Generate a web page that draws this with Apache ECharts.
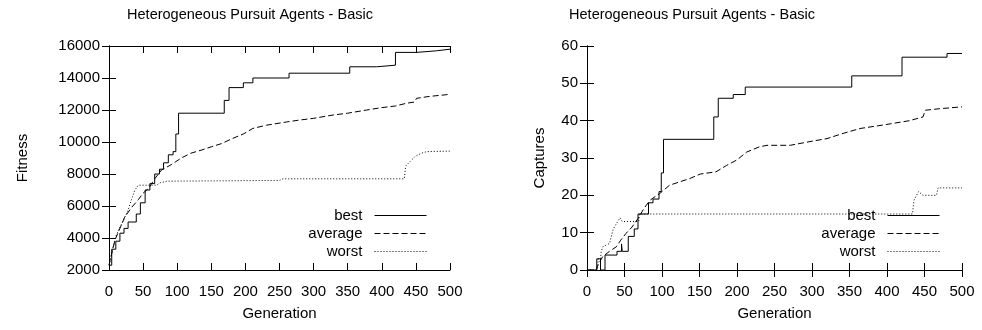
<!DOCTYPE html>
<html>
<head>
<meta charset="utf-8">
<script src="https://cdn.jsdelivr.net/npm/echarts@6/dist/echarts.min.js"></script>
<style>
  html, body { margin: 0; padding: 0; background: #fff; }
  #chart { width: 982px; height: 330px; }
</style>
</head>
<body>
<div id="chart"></div>
<script>
// values, [generation, value]
const chartTitle = 'Heterogeneous Pursuit Agents - Basic';
const seriesNames = ['best', 'average', 'worst'];

const fitnessBest = [
  [0, 2300], [4, 3300], [10, 3800], [16, 4300], [22, 4600], [28, 5000], [40, 5500],
  [46, 6200], [53, 7000], [60, 7400], [67, 8000], [74, 8300], [80, 8700], [87, 9200],
  [94, 9400], [98, 10500], [102, 11800], [169, 12600], [176, 13400], [197, 13700],
  [211, 14000], [264, 14300], [353, 14700], [392, 14800], [420, 15600], [451, 15700],
  [480, 15800], [500, 15800]
];
const fitnessAverage = [
  [0, 2300], [5, 3200], [9, 3900], [15, 4500], [23, 5300], [33, 5900], [43, 6400],
  [50, 6800], [58, 7100], [67, 7700], [77, 8250], [92, 8600], [106, 9000], [120, 9300],
  [136, 9500], [150, 9700], [165, 9900], [180, 10200], [197, 10500], [211, 10850],
  [231, 11050], [260, 11250], [280, 11375], [300, 11480], [329, 11690], [350, 11800],
  [378, 12000], [400, 12150], [420, 12250], [436, 12420], [448, 12500], [451, 12730],
  [470, 12850], [500, 12980]
];
const fitnessWorst = [
  [0, 2300], [5, 3300], [10, 4100], [15, 4600], [20, 5000], [28, 5750], [33, 6400],
  [38, 7000], [43, 7300], [70, 7300], [75, 7450], [85, 7550], [250, 7600], [255, 7700],
  [433, 7700], [435, 8500], [442, 8800], [449, 9100], [458, 9300], [466, 9400], [500, 9430]
];

const capturesBest = [
  [0, 0], [13, 3], [18, 0], [24, 4], [40, 5], [46, 7], [47, 5], [55, 9], [63, 11],
  [68, 15], [82, 18], [88, 19], [96, 21], [99, 26], [102, 35], [169, 41], [175, 46],
  [195, 47], [211, 49], [353, 52], [420, 57], [480, 58], [500, 58]
];
const capturesAverage = [
  [0, 0], [12, 0], [15, 1.5], [21, 3.6], [30, 5], [39, 6.2], [45, 8], [52, 9.8],
  [60, 11.5], [68, 13.8], [76, 16.5], [84, 18.7], [97, 20.5], [110, 22.7], [137, 24.5],
  [151, 25.7], [172, 26.3], [186, 28], [200, 29.5], [213, 31.6], [230, 33], [240, 33.4],
  [271, 33.4], [300, 34.5], [320, 35.2], [340, 36.5], [364, 37.9], [400, 39], [430, 40],
  [448, 41], [451, 42.8], [470, 43.2], [500, 43.7]
];
const capturesWorst = [
  [0, 0], [14, 0], [15, 3], [18, 3], [19, 5], [21, 6.2], [30, 7.1], [35, 11], [44, 14],
  [47, 13], [69, 13], [70, 15], [434, 15], [436, 18.7], [442, 21], [448, 20], [466, 20],
  [468, 22], [500, 22]
];

const font = "'Liberation Sans', Arial, Helvetica, sans-serif";
const ink = '#000';

const lineStyles = {
  best: { color: ink, width: 1, type: 'solid' },
  average: { color: ink, width: 1, type: [6, 3] },
  worst: { color: ink, width: 1, type: [1, 2] }
};

function makeAxes(gridIndex, yMin, yMax, yInterval, yName, yNameGap) {
  const tick = { show: true, inside: true, length: 7, lineStyle: { color: ink } };
  const line = { show: true, lineStyle: { color: ink, width: 1 } };
  const label = { color: ink, fontFamily: font, fontSize: 15 };
  const nameStyle = { color: ink, fontFamily: font, fontSize: 15 };
  const x = [
    {
      type: 'value', gridIndex, min: 0, max: 500, interval: 50, position: 'bottom',
      axisLine: line, axisTick: tick, splitLine: { show: false },
      axisLabel: { ...label, margin: 14 },
      name: 'Generation', nameLocation: 'middle', nameGap: 36, nameTextStyle: nameStyle
    },
    {
      type: 'value', gridIndex, min: 0, max: 500, interval: 50, position: 'top',
      axisLine: line, axisTick: tick, splitLine: { show: false }, axisLabel: { show: false }
    }
  ];
  const y = [
    {
      type: 'value', gridIndex, min: yMin, max: yMax, interval: yInterval, position: 'left',
      axisLine: line, axisTick: tick, splitLine: { show: false },
      axisLabel: { ...label, margin: 9, formatter: v => String(v) },
      name: yName, nameLocation: 'middle', nameRotate: 90, nameGap: yNameGap,
      nameTextStyle: nameStyle
    },
    {
      type: 'value', gridIndex, min: yMin, max: yMax, interval: yInterval, position: 'right',
      axisLine: line, axisTick: tick, splitLine: { show: false }, axisLabel: { show: false }
    }
  ];
  return { x, y };
}

function makeSeries(axisOffset, best, average, worst) {
  const data = { best, average, worst };
  return seriesNames.map(name => ({
    name,
    type: 'line',
    xAxisIndex: axisOffset,
    yAxisIndex: axisOffset,
    data: data[name],
    step: name === 'best' ? 'end' : false,
    symbol: 'none',
    lineStyle: lineStyles[name],
    itemStyle: { color: ink },
    animation: false,
    z: 3
  }));
}

function makeLegend(right) {
  return {
    orient: 'vertical',
    align: 'right',
    right,
    top: 208,
    padding: 0,
    itemWidth: 52,
    itemHeight: 14,
    itemGap: 3,
    data: seriesNames,
    itemStyle: { opacity: 0 },
    lineStyle: { width: 1 },
    textStyle: { color: ink, fontFamily: font, fontSize: 15, lineHeight: 14, padding: [0, 7, 0, 0] },
    selectedMode: false
  };
}

const leftAxes = makeAxes(0, 2000, 16000, 2000, 'Fitness', 79);
const rightAxes = makeAxes(1, 0, 60, 10, 'Captures', 40);

const chart = echarts.init(document.getElementById('chart'), null, { renderer: 'canvas' });

chart.setOption({
  backgroundColor: '#fff',
  animation: false,
  title: [
    { text: chartTitle, left: 245, top: 2, textAlign: 'center',
      textStyle: { color: ink, fontFamily: font, fontSize: 14.5, fontWeight: 'normal' } },
    { text: chartTitle, left: 687, top: 2, textAlign: 'center',
      textStyle: { color: ink, fontFamily: font, fontSize: 14.5, fontWeight: 'normal' } }
  ],
  legend: [makeLegend(555), makeLegend(42)],
  grid: [
    { left: 109, right: 532, top: 46, bottom: 60 },
    { left: 587, right: 20, top: 46, bottom: 60 }
  ],
  xAxis: [...leftAxes.x, ...rightAxes.x],
  yAxis: [...leftAxes.y, ...rightAxes.y],
  series: [
    ...makeSeries(0, fitnessBest, fitnessAverage, fitnessWorst),
    ...makeSeries(2, capturesBest, capturesAverage, capturesWorst)
  ]
});
</script>
</body>
</html>
